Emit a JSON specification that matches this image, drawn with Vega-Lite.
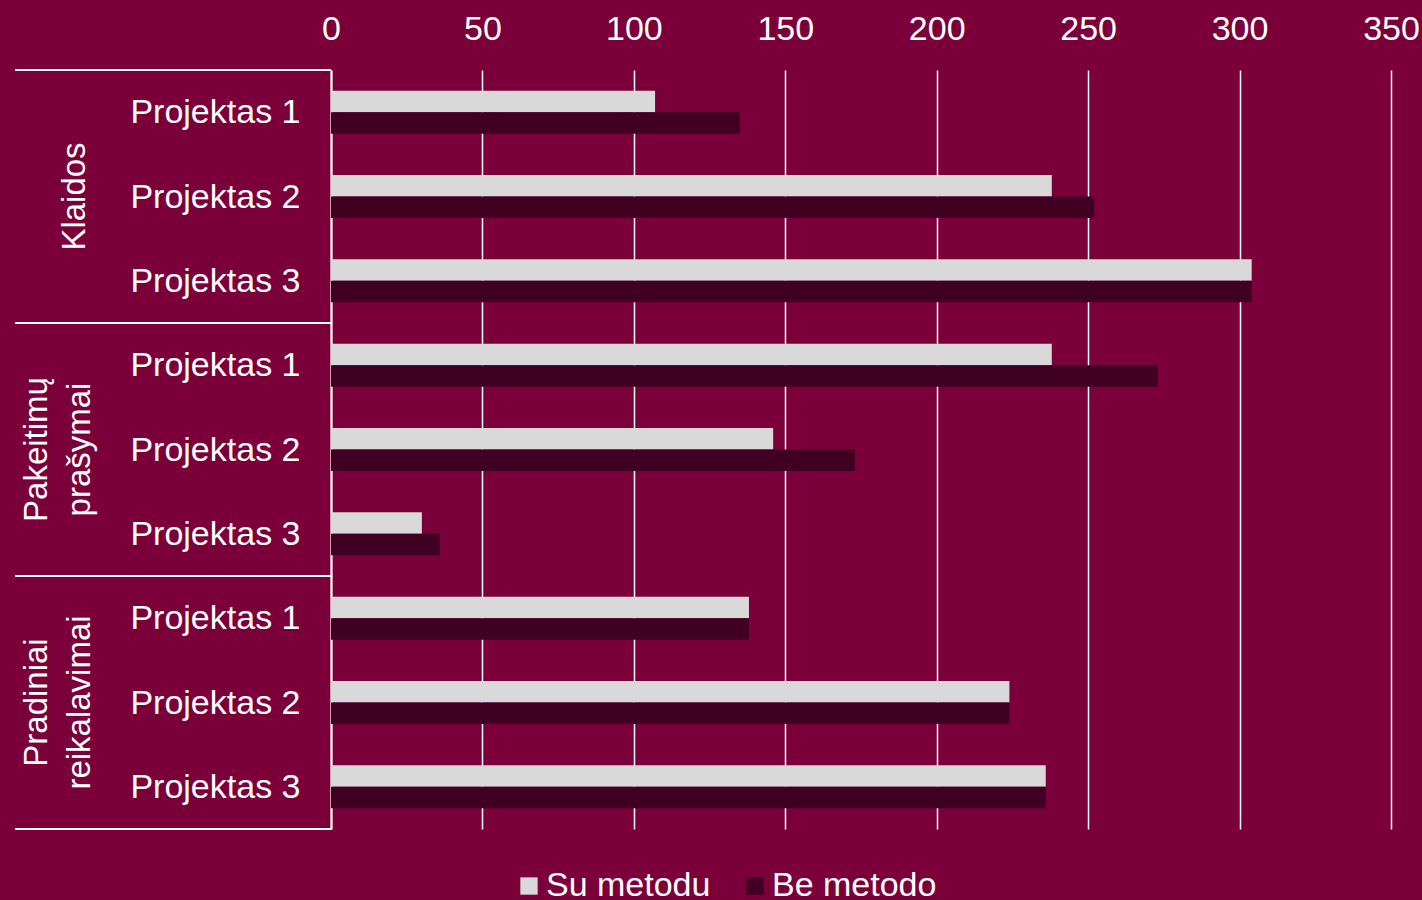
{
  "$schema": "https://vega.github.io/schema/vega-lite/v6.json",
  "width": 1060,
  "height": 759,
  "autosize": {"type": "none"},
  "padding": {"left": 331, "top": 70, "right": 31, "bottom": 71},
  "background": "#7b003a",
  "config": {
    "view": {"stroke": null},
    "font": "Liberation Sans",
    "axis": {"labelFont": "Liberation Sans", "labelColor": "#ffffff", "labelFontSize": 34, "title": null},
    "legend": {"labelFont": "Liberation Sans"}
  },
  "datasets": {
    "reiksmes": [
      {"kategorija": "Klaidos · Projektas 1", "serija": "Su metodu", "reiksme": 107},
      {"kategorija": "Klaidos · Projektas 1", "serija": "Be metodo", "reiksme": 135},
      {"kategorija": "Klaidos · Projektas 2", "serija": "Su metodu", "reiksme": 238},
      {"kategorija": "Klaidos · Projektas 2", "serija": "Be metodo", "reiksme": 252},
      {"kategorija": "Klaidos · Projektas 3", "serija": "Su metodu", "reiksme": 304},
      {"kategorija": "Klaidos · Projektas 3", "serija": "Be metodo", "reiksme": 304},
      {"kategorija": "Pakeitimų prašymai · Projektas 1", "serija": "Su metodu", "reiksme": 238},
      {"kategorija": "Pakeitimų prašymai · Projektas 1", "serija": "Be metodo", "reiksme": 273},
      {"kategorija": "Pakeitimų prašymai · Projektas 2", "serija": "Su metodu", "reiksme": 146},
      {"kategorija": "Pakeitimų prašymai · Projektas 2", "serija": "Be metodo", "reiksme": 173},
      {"kategorija": "Pakeitimų prašymai · Projektas 3", "serija": "Su metodu", "reiksme": 30},
      {"kategorija": "Pakeitimų prašymai · Projektas 3", "serija": "Be metodo", "reiksme": 36},
      {"kategorija": "Pradiniai reikalavimai · Projektas 1", "serija": "Su metodu", "reiksme": 138},
      {"kategorija": "Pradiniai reikalavimai · Projektas 1", "serija": "Be metodo", "reiksme": 138},
      {"kategorija": "Pradiniai reikalavimai · Projektas 2", "serija": "Su metodu", "reiksme": 224},
      {"kategorija": "Pradiniai reikalavimai · Projektas 2", "serija": "Be metodo", "reiksme": 224},
      {"kategorija": "Pradiniai reikalavimai · Projektas 3", "serija": "Su metodu", "reiksme": 236},
      {"kategorija": "Pradiniai reikalavimai · Projektas 3", "serija": "Be metodo", "reiksme": 236}
    ],
    "grupes1": [
      {"kategorija": "Klaidos · Projektas 2", "pavadinimas": "Klaidos"}
    ],
    "grupes2": [
      {"kategorija": "Pakeitimų prašymai · Projektas 2", "pavadinimas": "Pakeitimų\nprašymai"},
      {"kategorija": "Pradiniai reikalavimai · Projektas 2", "pavadinimas": "Pradiniai\nreikalavimai"}
    ],
    "ribos": [
      {"kategorija": "Klaidos · Projektas 1"},
      {"kategorija": "Pakeitimų prašymai · Projektas 1"},
      {"kategorija": "Pradiniai reikalavimai · Projektas 1"}
    ],
    "apacia": [
      {"kategorija": "Pradiniai reikalavimai · Projektas 3"}
    ]
  },
  "layer": [
    {
      "data": {"name": "reiksmes"},
      "mark": {"type": "bar"},
      "encoding": {
        "y": {
          "field": "kategorija",
          "type": "nominal",
          "scale": {"paddingInner": 0, "paddingOuter": 0},
          "axis": {
            "labelExpr": "split(datum.label, ' · ')[1]",
            "domain": true,
            "domainColor": "#ffffff",
            "domainWidth": 2,
            "ticks": false,
            "grid": false,
            "labelPadding": 31,
            "labelOffset": 1,
            "labelLimit": 400
          }
        },
        "yOffset": {
          "field": "serija",
          "type": "nominal",
          "sort": ["Su metodu", "Be metodo"],
          "scale": {"paddingOuter": 0.96, "paddingInner": 0}
        },
        "x": {
          "field": "reiksme",
          "type": "quantitative",
          "scale": {"domain": [0, 350], "nice": false},
          "axis": {
            "orient": "top",
            "values": [0, 50, 100, 150, 200, 250, 300, 350],
            "grid": true,
            "gridColor": "#ffffff",
            "gridWidth": 1.5,
            "gridOpacity": 1,
            "domain": false,
            "ticks": false,
            "tickSize": 0,
            "labelPadding": 24,
            "labelFlush": false
          }
        },
        "color": {
          "field": "serija",
          "type": "nominal",
          "sort": ["Su metodu", "Be metodo"],
          "scale": {"domain": ["Su metodu", "Be metodo"], "range": ["#d9d9d9", "#3f0021"]},
          "legend": {
            "title": null,
            "orient": "none",
            "direction": "horizontal",
            "legendX": 181,
            "legendY": 799,
            "padding": 0,
            "symbolType": "square",
            "symbolSize": 300,
            "symbolStrokeWidth": 0,
            "symbolOpacity": 1,
            "labelFontSize": 34,
            "labelColor": "#ffffff",
            "labelOffset": 0,
            "columnPadding": 27,
            "labelLimit": 400
          }
        }
      }
    },
    {
      "data": {"name": "ribos"},
      "mark": {"type": "rule", "color": "#ffffff", "strokeWidth": 2, "clip": false},
      "encoding": {
        "y": {"field": "kategorija", "type": "nominal", "bandPosition": 0},
        "x": {"datum": -104.3, "type": "quantitative"},
        "x2": {"datum": 0}
      }
    },
    {
      "data": {"name": "apacia"},
      "mark": {"type": "rule", "color": "#ffffff", "strokeWidth": 2, "clip": false},
      "encoding": {
        "y": {"field": "kategorija", "type": "nominal", "bandPosition": 1},
        "x": {"datum": -104.3, "type": "quantitative"},
        "x2": {"datum": 0}
      }
    },
    {
      "data": {"name": "grupes1"},
      "mark": {
        "type": "text",
        "angle": 270,
        "align": "center",
        "baseline": "bottom",
        "fontSize": 33,
        "color": "#ffffff",
        "font": "Liberation Sans",
        "clip": false
      },
      "encoding": {
        "y": {"field": "kategorija", "type": "nominal"},
        "x": {"datum": -79, "type": "quantitative"},
        "text": {"field": "pavadinimas"}
      }
    },
    {
      "data": {"name": "grupes2"},
      "mark": {
        "type": "text",
        "angle": 270,
        "align": "center",
        "baseline": "bottom",
        "lineBreak": "\n",
        "lineHeight": 43,
        "fontSize": 33,
        "color": "#ffffff",
        "font": "Liberation Sans",
        "clip": false
      },
      "encoding": {
        "y": {"field": "kategorija", "type": "nominal"},
        "x": {"datum": -91.5, "type": "quantitative"},
        "text": {"field": "pavadinimas"}
      }
    }
  ]
}
